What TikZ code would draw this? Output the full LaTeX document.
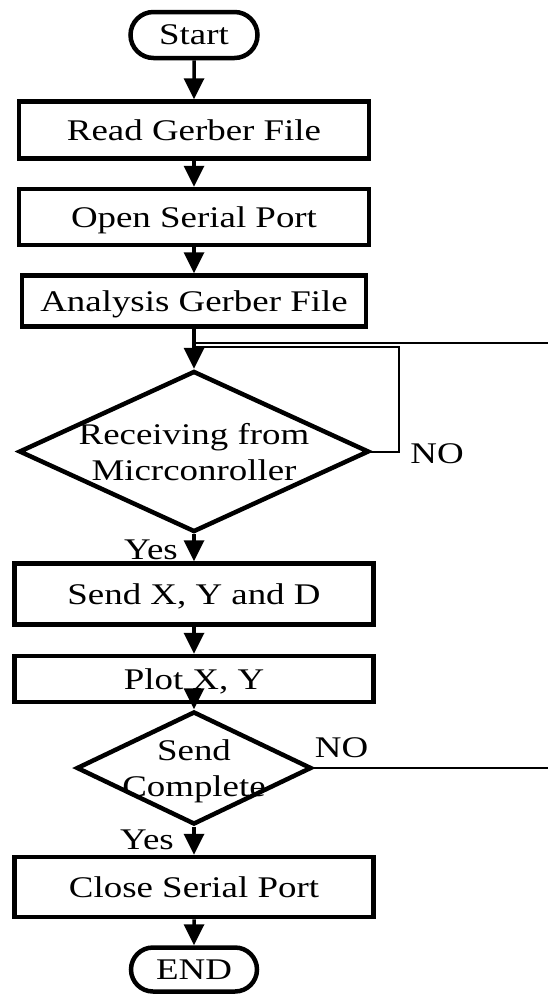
\documentclass[tikz,border=0pt]{standalone}
\usepackage{fontspec}
\setmainfont{Liberation Serif}[FakeStretch=1.23]
\usepackage{tikz}
\usetikzlibrary{positioning,shapes.geometric,shapes.misc,arrows.meta}

\begin{document}
\begin{tikzpicture}[
            x=1pt,y=1pt,
            every node/.style={font=\fontsize{30}{36}\selectfont},
            terminal/.style={rounded rectangle,draw,line width=4.5pt,inner sep=0pt},
            process/.style={rectangle,draw,line width=4.5pt,inner sep=0pt,text depth=0pt},
            decision/.style={diamond,draw,line width=4.5pt,inner sep=-60pt,align=center,text depth=0pt},
            tag/.style={inner sep=0pt},
            flow/.style={line width=3.5pt,-{Triangle[length=21pt,width=20pt]}},
            loopline/.style={line width=2pt}
        ]
            \useasboundingbox (0,0) rectangle (548,-994);

            \node (start) at (194,-35) [terminal,minimum width=127pt,minimum height=46pt] {Start};
            \node (read)    [below=39pt of start,process,minimum width=350pt,minimum height=57pt] {Read Gerber File};
            \node (open)    [below=26pt of read,process,minimum width=350pt,minimum height=56pt]  {Open Serial Port};
            \node (analyse) [below=26pt of open,process,minimum width=344pt,minimum height=51pt]  {Analysis Gerber File};
            \node (recv)    [below=40pt of analyse,decision,minimum width=350pt,minimum height=161pt] {Receiving from\\Micrconroller};
            \node (sendxy)  [below=27pt of recv,process,minimum width=359pt,minimum height=61pt]  {Send X, Y and D};
            \node (plot)    [below=27pt of sendxy,process,minimum width=359pt,minimum height=46pt] {Plot X, Y};
            \node (done)    [below=5pt of plot,decision,minimum width=235pt,minimum height=113pt] {Send\\Complete};
            \node (close)   [below=28pt of done,process,minimum width=359pt,minimum height=60pt]  {Close Serial Port};
            \node (stop)    [below=26pt of close,terminal,minimum width=126pt,minimum height=44pt] {END};

            \node (no1)  [tag,right=39pt of recv.east,yshift=-2pt]        {NO};
            \node (no2)  [tag,above right=10pt and 1pt of done.east]      {NO};
            \node (yes1) [tag,below left=5pt and 16pt of recv.south]      {Yes};
            \node (yes2) [tag,below left=3pt and 20pt of done.south]      {Yes};

            \draw [flow] (start)   -- (read);
            \draw [flow] (read)    -- (open);
            \draw [flow] (open)    -- (analyse);
            \draw [flow] (analyse) -- (recv);
            \draw [flow] (recv)    -- (sendxy);
            \draw [flow] (sendxy)  -- (plot);
            \draw [flow] (plot)    -- (done);
            \draw [flow] (done)    -- (close);
            \draw [flow] (close)   -- (stop);

            \coordinate [above=22pt of recv.north] (join);
            \coordinate (rimtop) at (548,-343);
            \coordinate (rim) at (548,0);
            \draw [loopline] (recv.east) -- ++(28,0) |- (join);
            \draw [loopline] (rimtop) -- (rimtop -| recv.north);
            \draw [loopline] (done.east) -- (done.east -| rim);
        \end{tikzpicture}
\end{document}
